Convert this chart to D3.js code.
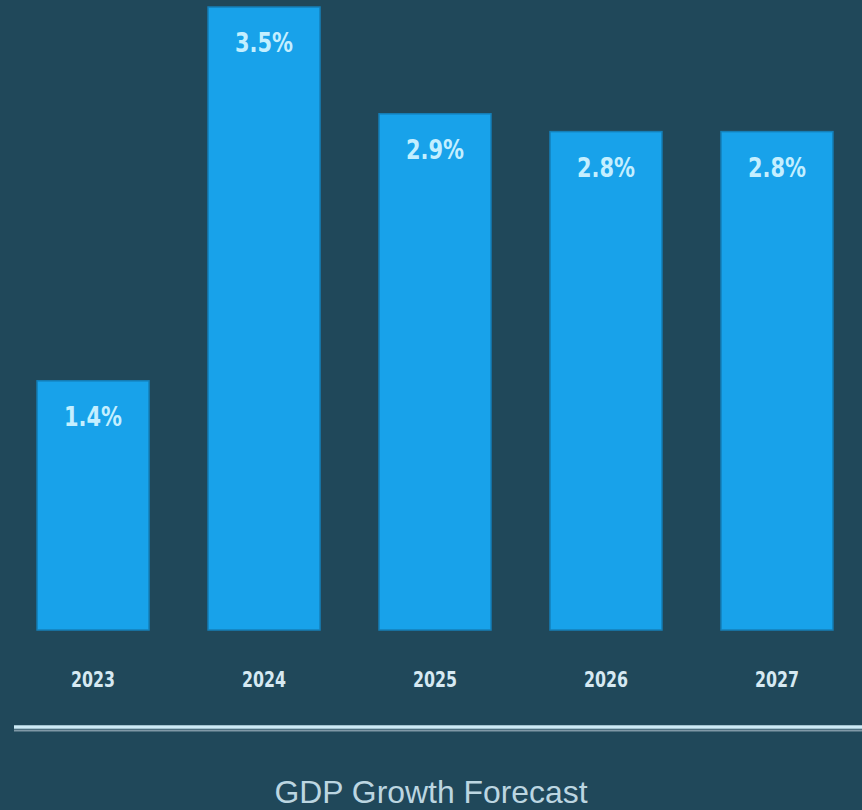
<!DOCTYPE html>
<html><head><meta charset="utf-8">
<script src="https://cdn.jsdelivr.net/npm/d3@7"></script>
<style>html,body{margin:0;padding:0;background:#20485a;overflow:hidden}</style>
</head><body>
<svg id="c" width="862" height="810"></svg>
<script>
const years = ["2023","2024","2025","2026","2027"];
const growth = [1.4, 3.5, 2.9, 2.8, 2.8];
const valueLabels = ["1.4%","3.5%","2.9%","2.8%","2.8%"];
const title = "GDP Growth Forecast";

const svg = d3.select("#c");
svg.append("rect").attr("width",862).attr("height",810).attr("fill","#20485a");

const x = d3.scaleBand().domain(years).range([22,848]).paddingInner(0.345).paddingOuter(0.088);
const y = d3.scaleLinear().domain([0,3.5]).range([630,7]);

const g = svg.append("g");
g.selectAll("rect.bar").data(years).join("rect").attr("class","bar")
  .attr("x", d=>x(d)).attr("width", x.bandwidth())
  .attr("y", (d,i)=>y(growth[i])).attr("height",(d,i)=>y(0)-y(growth[i]))
  .attr("fill","#18a2ea").attr("stroke","#147fb8").attr("stroke-width",1.5);

g.selectAll("text.val").data(years).join("text").attr("class","val")
  .attr("x", d=>x(d)+x.bandwidth()/2).attr("y",(d,i)=>y(growth[i])+45)
  .attr("text-anchor","middle")
  .style("font-family","'DejaVu Sans Condensed','DejaVu Sans',sans-serif")
  .style("font-weight","bold").style("font-size","27px").attr("fill","#c4efff")
  .attr("textLength",58).attr("lengthAdjust","spacingAndGlyphs")
  .text((d,i)=>valueLabels[i]);

const xAxis = d3.axisBottom(x).tickSize(0).tickPadding(0);
const ax = svg.append("g").attr("transform","translate(0,687)").call(xAxis);
ax.select(".domain").remove();
ax.selectAll("text")
  .attr("dy","0")
  .style("font-family","'DejaVu Sans Condensed','DejaVu Sans',sans-serif")
  .style("font-weight","bold").style("font-size","22px").attr("fill","#d6e9f2")
  .attr("textLength",44).attr("lengthAdjust","spacingAndGlyphs");

svg.append("line").attr("x1",14).attr("x2",862).attr("y1",727).attr("y2",727)
  .attr("stroke","#cdeaf6").attr("stroke-width",3.5);
svg.append("line").attr("x1",14).attr("x2",862).attr("y1",730.5).attr("y2",730.5)
  .attr("stroke","#7f98a6").attr("stroke-width",2);

svg.append("text").attr("x",431).attr("y",803).attr("text-anchor","middle")
  .style("font-family","'Liberation Sans',sans-serif")
  .style("font-size","32px").attr("fill","#bcd6e1")
  .attr("textLength",313).attr("lengthAdjust","spacingAndGlyphs")
  .text(title);
</script>
</body></html>
